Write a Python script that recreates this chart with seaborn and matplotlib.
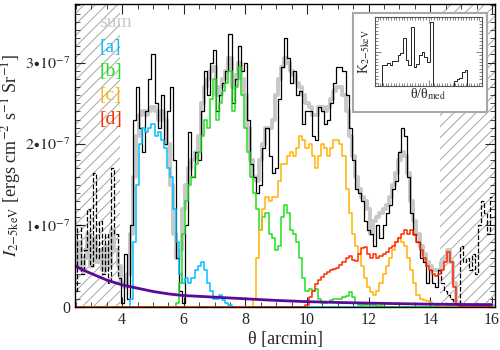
import numpy as np
import pandas as pd
import matplotlib
matplotlib.use('Agg')
import matplotlib.pyplot as plt
import seaborn as sns
from matplotlib.ticker import MultipleLocator

sns.set_style('ticks')
plt.rcParams['font.family'] = ['Liberation Serif', 'DejaVu Serif']
plt.rcParams['mathtext.fontset'] = 'stix'
plt.rcParams['hatch.color'] = '#a5a5a5'
plt.rcParams['hatch.linewidth'] = 0.7

# theta bins [arcmin], 2.5 ... 16.0
theta = np.round(np.arange(25, 161) / 10, 1)

# observed surface brightness, units of 1e-7
observed = [
    0.2, 1.0, 0.4, 0.7, 1.2, 0.5, 1.65, 0.6, 1.05, 0.4,
    0.9, 0.3, 1.7, 0.9, 0.35, 0.05, 0.65, 0.1, 1.0, 2.3,
    2.7, 2.2, 1.9, 2.4, 2.8, 3.1, 2.5, 2.2, 2.6, 2.0,
    2.4, 2.7, 1.8, 0.6, 0.2, 0.05, 1.0, 2.15, 1.6, 1.9,
    1.8, 2.4, 2.9, 2.6, 3.0, 3.15, 2.4, 2.6, 2.75, 2.9,
    3.35, 2.5, 2.8, 3.2, 2.9, 3.0, 2.3, 1.75, 1.6, 1.4,
    1.5, 1.95, 2.2, 1.85, 1.65, 1.7, 2.55, 2.95, 3.3, 3.05,
    2.75, 2.9, 2.6, 2.65, 2.25, 2.4, 2.4, 2.1, 2.05, 2.45,
    2.4, 2.25, 2.3, 2.5, 2.75, 2.95, 2.95, 2.9, 2.6, 2.2,
    1.8, 1.45, 1.4, 1.3, 1.05, 0.95, 0.9, 0.75, 1.0, 0.85,
    1.0, 1.15, 1.25, 1.45, 1.55, 1.9, 2.2, 2.1, 1.6, 1.15,
    0.9, 0.8, 0.6, 0.55, 0.3, 0.45, 0.3, 0.25, 0.45, 0.3,
    0.2, 0.15, 0.1, 0.05, 0.0, 0.75, 0.55, 0.6, 0.45, 0.65,
    0.4, 1.0, 1.3, 1.15, 0.9, 1.35,
]

model_sum = [
    0.5, 0.8, 0.45, 0.6, 0.9, 0.5, 0.85, 0.55, 0.7, 0.45,
    0.75, 0.5, 0.95, 0.7, 0.5, 0.3, 0.25, 0.4, 0.9, 1.6,
    2.1, 2.35, 2.4, 2.35, 2.4, 2.45, 2.4, 2.3, 2.4, 2.3,
    2.0, 1.5, 0.9, 0.6, 0.7, 1.2, 1.5, 1.7, 1.8, 1.9,
    2.1, 2.5, 2.7, 2.8, 2.9, 2.95, 2.6, 2.7, 2.8, 2.9,
    3.05, 2.7, 2.85, 3.0, 2.8, 2.6, 2.2, 1.8, 1.6, 1.55,
    1.8, 2.0, 2.2, 2.2, 2.3, 2.6, 2.8, 2.95, 3.05, 3.0,
    2.9, 2.85, 2.75, 2.7, 2.6, 2.5, 2.45, 2.35, 2.35, 2.45,
    2.45, 2.4, 2.45, 2.55, 2.65, 2.7, 2.7, 2.6, 2.4, 2.1,
    1.85, 1.6, 1.45, 1.35, 1.3, 1.2, 0.9, 1.05, 1.1, 1.15,
    1.2, 1.25, 1.35, 1.5, 1.65, 1.8, 1.9, 1.85, 1.65, 1.3,
    1.05, 0.9, 0.75, 0.65, 0.55, 0.5, 0.45, 0.45, 0.45, 0.55,
    0.6, 0.7, 0.55, 0.3, 0.05, 0.03, 0.03, 0.03, 0.03, 0.03,
    0.03, 0.03, 0.03, 0.03, 0.03, 0.03,
]

# components: first bin and values
a_start = 4.2
a_vals = [0.0, 0.1, 0.8, 1.5, 2.0, 2.2, 2.15, 2.2, 2.25, 2.1, 2.15, 2.05, 1.95, 1.7,
          1.6, 1.2, 0.8, 0.4, 0.3, 0.35, 0.3, 0.35, 0.45, 0.5, 0.55, 0.45, 0.3, 0.2,
          0.1, 0.1, 0.15, 0.08, 0.05, 0.03, 0.0]
b_start = 5.7
b_vals = [0.0, 0.05, 0.3, 0.9, 1.3, 1.5, 1.6, 1.75, 1.9, 2.1, 2.3, 2.2, 2.55, 2.8, 2.3,
          2.5, 2.65, 2.75, 2.9, 2.4, 2.7, 2.95, 2.6, 2.2, 1.9, 1.6, 1.4, 1.2, 0.95,
          1.1, 1.15, 0.9, 0.85, 0.7, 0.75, 1.1, 1.25, 1.15, 0.95, 0.9, 0.8, 0.6, 0.35,
          0.2, 0.22, 0.2, 0.22, 0.1, 0.05, 0.05, 0.06, 0.08, 0.1, 0.1, 0.1, 0.12, 0.14,
          0.18, 0.12, 0.05, 0.02, 0.02, 0.03, 0.04, 0.03, 0.02, 0.01, 0.01, 0.0]
c_start = 8.2
c_vals = [0.0, 0.1, 0.6, 0.95, 1.2, 1.35, 1.3, 1.35, 1.35, 1.55, 1.75, 1.75, 1.85, 1.9,
          1.85, 1.95, 2.1, 2.05, 1.95, 2.0, 1.85, 1.7, 1.85, 2.0, 1.95, 1.85, 1.95,
          2.05, 2.05, 2.0, 1.85, 1.45, 1.15, 0.9, 0.75, 0.65, 0.5, 0.35, 0.25, 0.18,
          0.15, 0.2, 0.3, 0.4, 0.5, 0.6, 0.7, 0.8, 0.85, 0.8, 0.75, 0.6, 0.45, 0.3,
          0.15, 0.1, 0.08, 0.07, 0.06, 0.04, 0.02, 0.01, 0.0]
d_start = 9.9
d_vals = [0.0, 0.02, 0.12, 0.2, 0.28, 0.33, 0.37, 0.4, 0.43, 0.45, 0.47, 0.48, 0.52,
          0.55, 0.6, 0.62, 0.58, 0.57, 0.65, 0.72, 0.73, 0.65, 0.6, 0.65, 0.6, 0.62,
          0.65, 0.68, 0.72, 0.75, 0.8, 0.85, 0.9, 0.95, 0.9, 0.95, 0.88, 0.8, 0.7,
          0.6, 0.5, 0.45, 0.4, 0.38, 0.4, 0.45, 0.55, 0.68, 0.55, 0.25, 0.02, 0.0]

# smooth background
bg_theta = [2.5, 2.75, 3.0, 3.25, 3.5, 3.75, 4.0, 4.5, 5.0, 5.5, 6.0, 7.0, 8.0, 9.0,
            10.0, 11.0, 12.0, 13.0, 14.0, 15.0, 16.0]
bg_vals = [0.5, 0.45, 0.41, 0.37, 0.33, 0.3, 0.27, 0.23, 0.19, 0.16, 0.14, 0.12, 0.1,
           0.08, 0.065, 0.055, 0.047, 0.04, 0.034, 0.03, 0.028]

# inset profile
inset_x = np.round(np.arange(41) * 0.05, 2)
inset_k = [0, 0, 0, 0.3, 0.3, 0.33, 0.31, 0.37, 0.36, 0.45, 0.48, 0.7, 0.38, 0.3, 0.85,
           0.28, 0.32, 0.45, 0.5, 0.42, 0.35, 0.93, 0, 0, 0, 0, 0, 0, 0, 0, 0.08, 0.1,
           0.12, 0.2, 0.24, 0, 0, 0, 0, 0, 0]


def pad(start, vals):
    idx = np.round(start + 0.1 * np.arange(len(vals)), 1)
    return pd.Series(vals, index=idx).reindex(theta, fill_value=0.0).values


comps = [
    ('[a]', pad(a_start, a_vals), '#00bfff'),
    ('[b]', pad(b_start, b_vals), '#1ee01e'),
    ('[c]', pad(c_start, c_vals), '#ffb300'),
    ('[d]', pad(d_start, d_vals), '#ff2a00'),
]
observed = np.array(observed)

fig = plt.figure(figsize=(5, 3.5), dpi=100)
ax = fig.add_axes([0.15, 0.123, 0.84, 0.866])

ax.axvspan(2.3, 3.92, facecolor='none', edgecolor='#a5a5a5', hatch='///', lw=0, zorder=0)
ax.axvspan(14.32, 16.5, facecolor='none', edgecolor='#a5a5a5', hatch='///', lw=0, zorder=0)

sns.lineplot(x=theta, y=model_sum, ax=ax, drawstyle='steps-mid', color='#c8c8c8', lw=2.8)

left = theta <= 3.95
mid = (theta >= 3.9) & (theta <= 14.35)
right = theta >= 14.3
sns.lineplot(x=theta[left], y=observed[left], ax=ax, drawstyle='steps-mid', color='black',
             lw=0.9, linestyle='--')
sns.lineplot(x=theta[mid], y=observed[mid], ax=ax, drawstyle='steps-mid', color='black', lw=0.9)
sns.lineplot(x=theta[right], y=observed[right], ax=ax, drawstyle='steps-mid', color='black',
             lw=0.9, linestyle='--')

for name, vals, col in comps:
    sns.lineplot(x=theta, y=vals, ax=ax, drawstyle='steps-mid', color=col, lw=1.1)

sns.lineplot(x=bg_theta, y=bg_vals, ax=ax, color='#5a0a96', lw=2)

ax.set_xlim(2.47, 16.1)
ax.set_ylim(0, 3.72)
ax.set_xticks([4, 6, 8, 10, 12, 14, 16])
ax.xaxis.set_minor_locator(MultipleLocator(0.5))
ax.set_yticks([0, 1, 2, 3])
ax.set_yticklabels(['0', r'$1\!\bullet\!10^{-7}$', r'$2\!\bullet\!10^{-7}$', r'$3\!\bullet\!10^{-7}$'])
ax.yaxis.set_minor_locator(MultipleLocator(0.1))
ax.tick_params(which='both', direction='in', top=True, right=True, labelsize=11.5)
ax.tick_params(which='major', length=7)
ax.tick_params(which='minor', length=3.5)
for s in ax.spines.values():
    s.set_color('black')
    s.set_linewidth(1)
ax.set_xlabel(r'θ [arcmin]', fontsize=13, labelpad=2)
ax.set_ylabel(r'$I_{\rm 2\!-\!5keV}$ [ergs cm$^{-2}$ s$^{-1}$ Sr$^{-1}$]', fontsize=13, labelpad=1)

labels = [('sum', '#c8c8c8')] + [(n, c) for n, _, c in comps]
for i, (txt, col) in enumerate(labels):
    ax.text(0.058, 0.937 - i * 0.08, txt, color=col, fontsize=14, transform=ax.transAxes,
            va='center', ha='left')

frame = fig.add_axes([0.706, 0.68, 0.268, 0.283])
frame.set_facecolor('white')
frame.set_xticks([])
frame.set_yticks([])
for s in frame.spines.values():
    s.set_color('#a8a8a8')
    s.set_linewidth(1.5)

ins = fig.add_axes([0.75, 0.754, 0.214, 0.197])
sns.lineplot(x=inset_x, y=inset_k, ax=ins, drawstyle='steps-mid', color='#222222', lw=0.7)
ins.set_xlim(0, 2)
ins.set_ylim(0, 1)
ins.set_xticks([0, 1, 2])
ins.set_yticks([0, 0.5, 1])
ins.xaxis.set_minor_locator(MultipleLocator(0.05))
ins.yaxis.set_minor_locator(MultipleLocator(0.05))
ins.tick_params(which='both', direction='in', top=True, right=True, labelbottom=False,
                labelleft=False, color='#555555', width=0.5)
ins.tick_params(which='major', length=4)
ins.tick_params(which='minor', length=2)
for s in ins.spines.values():
    s.set_color('#555555')
    s.set_linewidth(0.8)
ins.set_xlabel(r'θ/θ$_{\rm med}$', fontsize=10, labelpad=0)
ins.set_ylabel(r'K$_{\rm 2\!-\!5keV}$', fontsize=10, labelpad=2)

fig.savefig('out.png', dpi=100)
